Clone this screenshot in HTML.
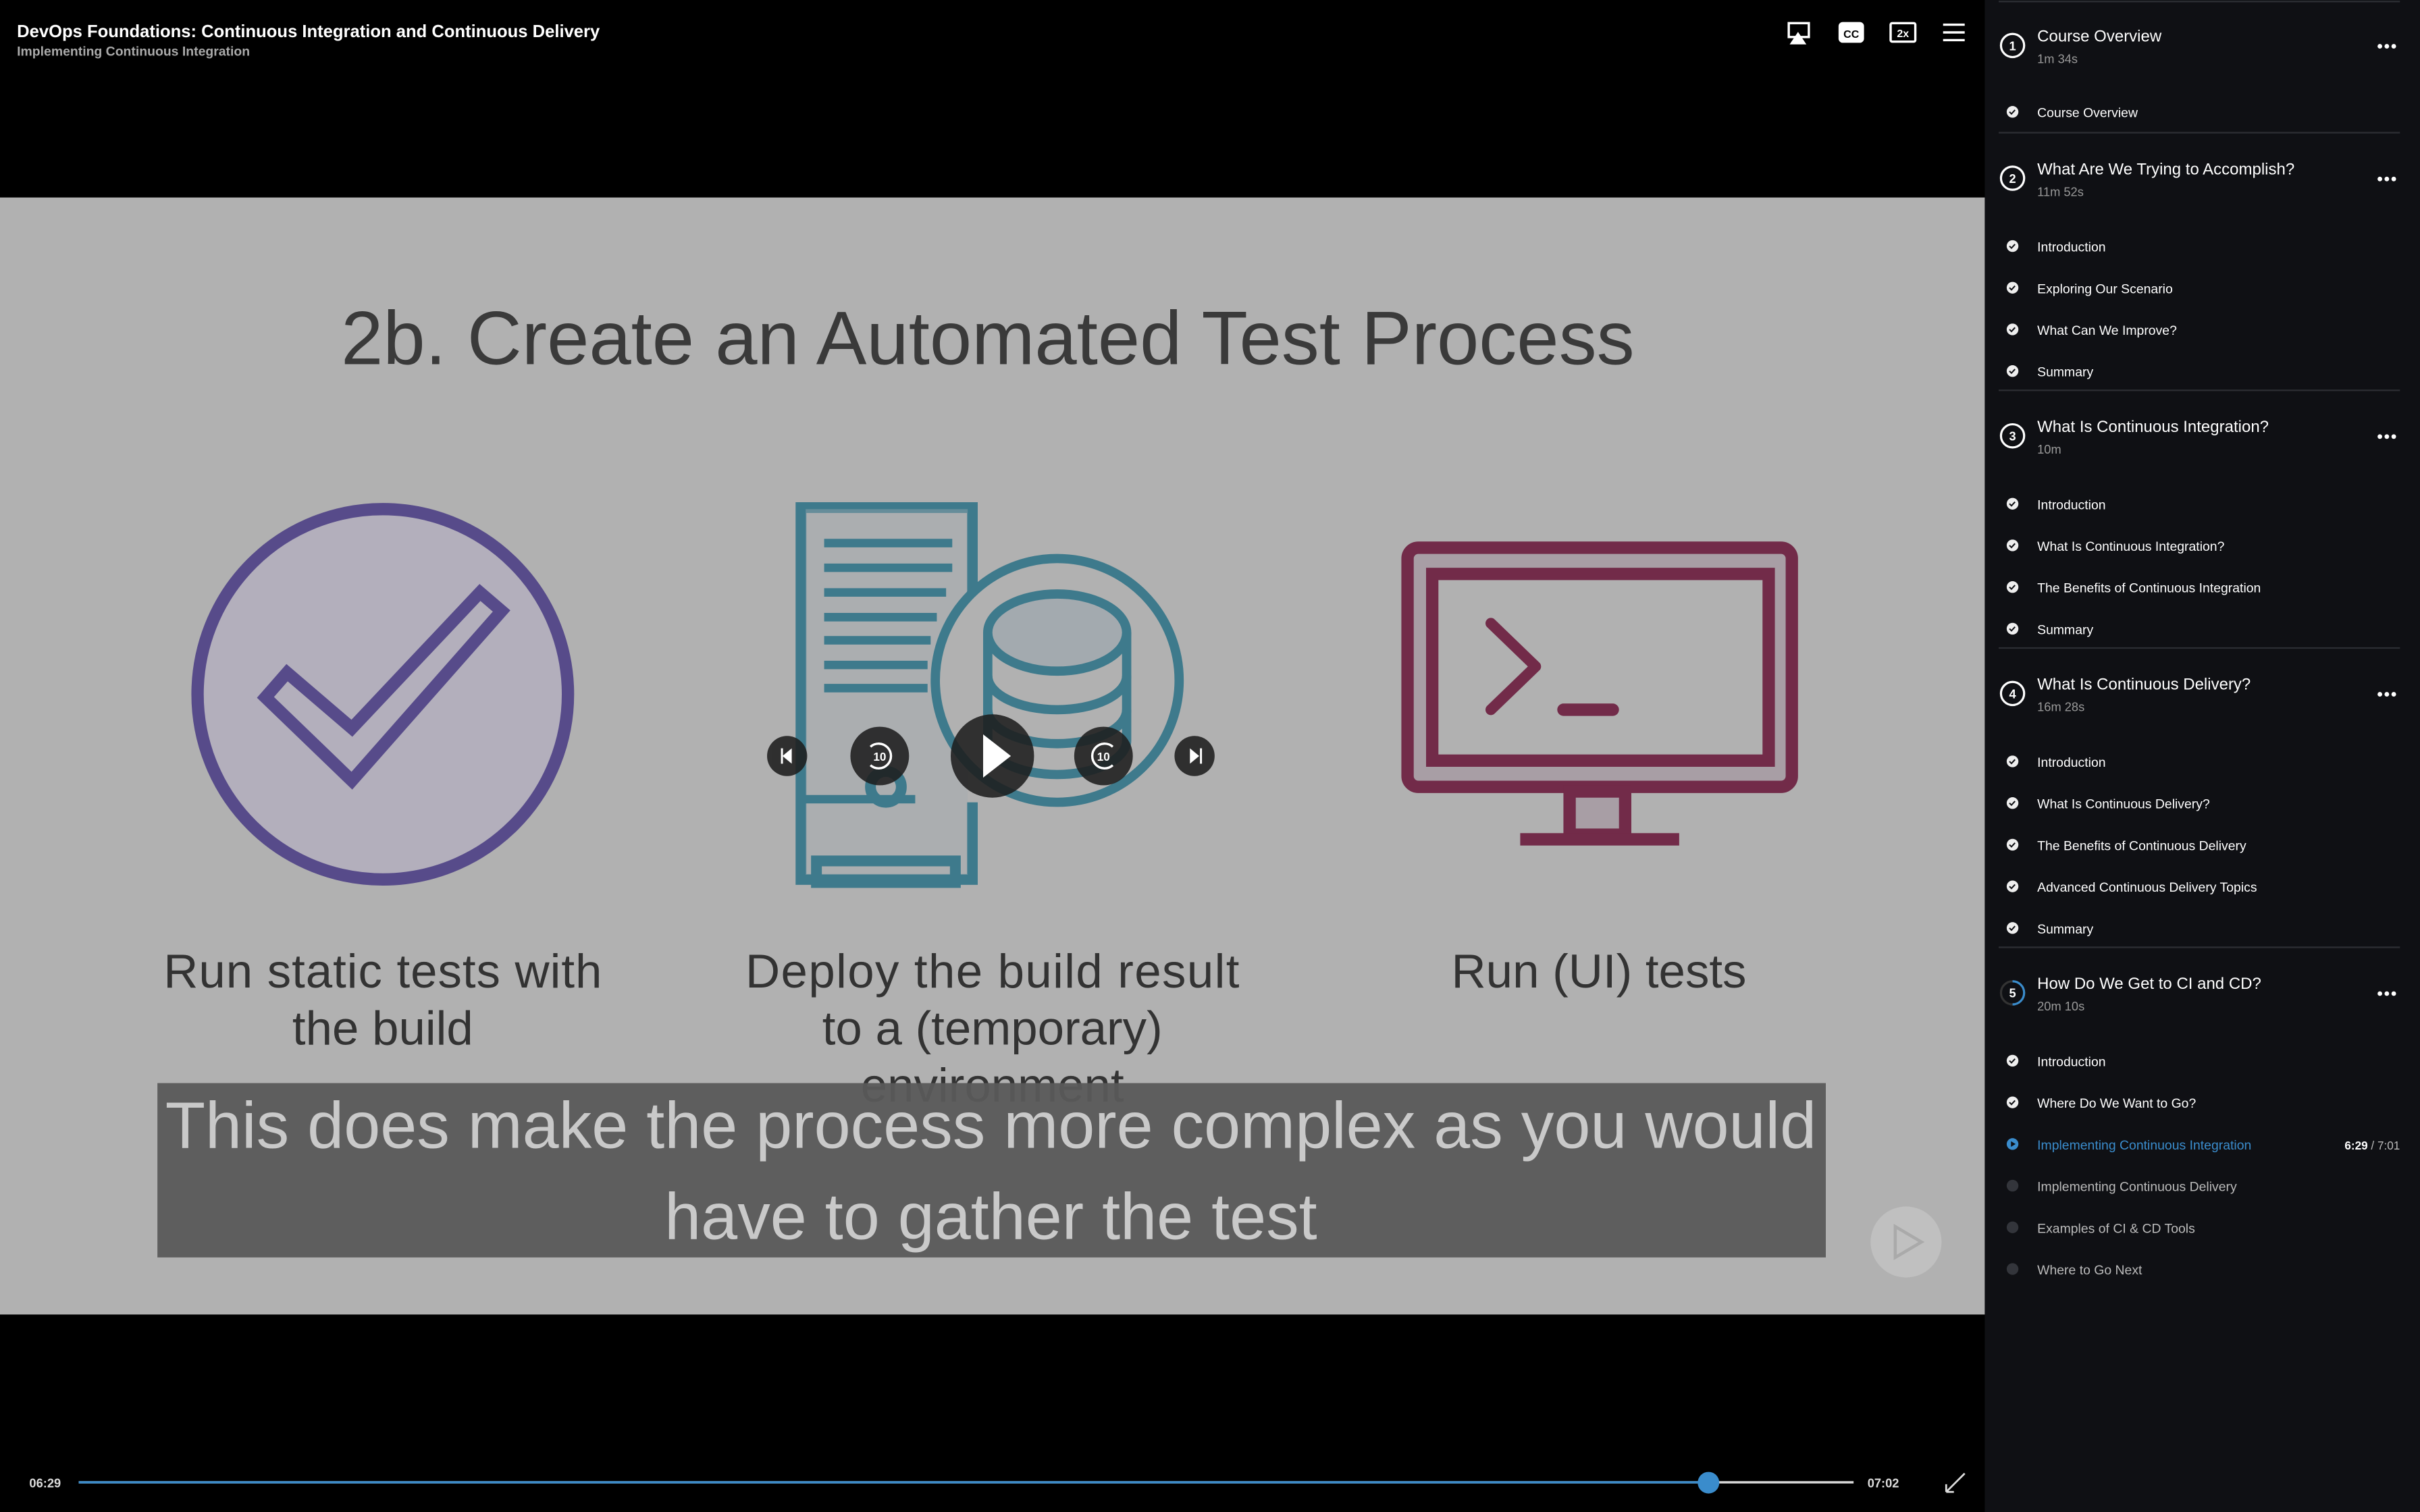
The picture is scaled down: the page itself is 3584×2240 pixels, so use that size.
<!DOCTYPE html>
<html><head><meta charset="utf-8"><style>
html,body{margin:0;padding:0;background:#000;width:3584px;height:2240px;overflow:hidden}
svg{display:block}
text{font-family:"Liberation Sans",sans-serif}
</style></head><body>
<svg width="3584" height="2240" viewBox="0 0 1568 980" preserveAspectRatio="none" xmlns="http://www.w3.org/2000/svg">
<rect width="1568" height="980" fill="#000"/>
<!-- header -->
<text x="11" y="24" font-size="11.2" font-weight="bold" fill="#fff">DevOps Foundations: Continuous Integration and Continuous Delivery</text>
<text x="11" y="36" font-size="8.5" font-weight="bold" fill="#aaa">Implementing Continuous Integration</text>
<g fill="none" stroke="#fff" stroke-width="1.5">
<rect x="1159" y="15" width="13" height="9"/><path d="M1161 28 L1165 22 L1169 28 Z" fill="#fff"/>
<rect x="1192" y="15" width="15" height="12" rx="2" fill="#fff"/>
<rect x="1225" y="15" width="16" height="12" rx="1"/>
<path d="M1259 16 H1273 M1259 21 H1273 M1259 26 H1273"/>
</g>
<text x="1199.5" y="24.5" font-size="7" font-weight="bold" fill="#000" text-anchor="middle">CC</text>
<text x="1233" y="24" font-size="7" font-weight="bold" fill="#fff" text-anchor="middle">2x</text>
<!-- slide -->
<rect x="0" y="128" width="1286" height="724" fill="#b1b1b1"/>
<text x="640" y="236" font-size="49" fill="#3a3a3a" text-anchor="middle">2b. Create an Automated Test Process</text>
<!-- circle check -->
<circle cx="248" cy="450" r="120" fill="#b3afbc" stroke="#574b8a" stroke-width="8"/>
<path d="M172 452 L228 506 L325 396 L311 384 L228 472 L186 436 Z" fill="none" stroke="#574b8a" stroke-width="8" stroke-linejoin="miter"/>
<!-- server -->
<g fill="none" stroke="#3e7a8c" stroke-width="7">
<path d="M630 420 V329 H519 V570 H630 V520"/>
<rect x="522" y="330" width="105" height="237" fill="#a3aaaf" stroke="none" opacity="0.4"/>
<rect x="529" y="558" width="90" height="14"/>
<circle cx="574" cy="510" r="10"/>
</g>
<g stroke="#3e7a8c" stroke-width="5.5">
<path d="M534 352 H617 M534 368 H617 M534 384 H613 M534 400 H607 M534 415 H603 M534 431 H601 M534 446 H601 M519 518 H593"/>
</g>
<circle cx="685" cy="441" r="79" fill="#b1b1b1" stroke="#3e7a8c" stroke-width="6"/>
<g fill="none" stroke="#3e7a8c" stroke-width="6">
<path d="M640 410 V480 A45 22 0 0 0 730 480 V410"/>
<ellipse cx="685" cy="410" rx="45" ry="25" fill="#a3aaaf"/>
<path d="M640 438 A45 22 0 0 0 730 438 M640 460 A45 22 0 0 0 730 460"/>
</g>
<!-- monitor -->
<g fill="none" stroke="#722b49" stroke-width="8">
<rect x="912" y="355" width="249" height="155" rx="7" fill="#a89ea5"/>
<rect x="928" y="372" width="218" height="121" fill="#b1b1b1"/>
<rect x="1017" y="513" width="36" height="28" fill="#a89ea5"/>
<path d="M985 544 H1088" stroke-width="8"/>
<path d="M966 404 L995 432 L966 460" stroke-linecap="round" stroke-linejoin="round" stroke-width="7"/>
<path d="M1013 460 H1045" stroke-linecap="round" stroke-width="8"/>
</g>
<g font-size="31" fill="#333" text-anchor="middle">
<text x="248" y="640" textLength="284">Run static tests with</text>
<text x="248" y="677">the build</text>
<text x="643" y="640" textLength="320">Deploy the build result</text>
<text x="643" y="677">to a (temporary)</text>
<text x="643" y="714">environment</text>
<text x="1036" y="640">Run (UI) tests</text>
</g>
<!-- caption -->
<rect x="102" y="702" width="1081" height="113" fill="#5a5a5a" opacity="0.95"/>
<g font-size="42.5" fill="#c9c9c9" text-anchor="middle">
<text x="642" y="744">This does make the process more complex as you would</text>
<text x="642" y="803">have to gather the test</text>
</g>
<!-- controls -->
<g fill="#1e1e1e" opacity="0.88">
<circle cx="510" cy="490" r="13"/><circle cx="570" cy="490" r="19"/><circle cx="643" cy="490" r="27"/><circle cx="715" cy="490" r="19"/><circle cx="774" cy="490" r="13"/>
</g>
<g fill="#fff">
<path d="M637 476 V504 L655 490 Z"/>
<path d="M513 485 V495 L507 490 Z"/><rect x="506" y="485" width="1.3" height="10"/>
<path d="M771 485 V495 L777 490 Z"/><rect x="777.5" y="485" width="1.3" height="10"/>
</g>
<g fill="none" stroke="#fff" stroke-width="1.5">
<path d="M564 484 A8 8 0 1 1 564 496"/><path d="M721 484 A8 8 0 1 0 721 496"/>
</g>
<text x="570" y="493" font-size="7.5" font-weight="bold" fill="#fff" text-anchor="middle">10</text>
<text x="715" y="493" font-size="7.5" font-weight="bold" fill="#fff" text-anchor="middle">10</text>
<circle cx="1235" cy="805" r="23" fill="#c6c6c6" opacity="0.7"/>
<path d="M1228 795 V815 L1245 805 Z" fill="none" stroke="#aaa" stroke-width="2"/>
<!-- progress -->
<text x="19" y="964" font-size="8" font-weight="bold" fill="#ddd">06:29</text>
<rect x="51" y="960" width="1150" height="1.5" fill="#ddd"/>
<rect x="51" y="960" width="1056" height="1.5" fill="#3a8ccc"/>
<circle cx="1107" cy="961" r="7" fill="#3a8ccc"/>
<text x="1210" y="964" font-size="8" font-weight="bold" fill="#ddd">07:02</text>
<path d="M1261 967 L1267 961 M1267 961 L1273 955 M1261 967 V962 M1261 967 H1266" stroke="#ddd" stroke-width="1.2" fill="none"/>
<!-- sidebar -->
<rect x="1286" y="0" width="282" height="980" fill="#0f1014"/>
<g stroke="#2c2e33" stroke-width="1">
<path d="M1295 1 H1555 M1295 86 H1555 M1295 253 H1555 M1295 420 H1555 M1295 614 H1555"/>
</g>
<g fill="none" stroke="#fff" stroke-width="1.4">
<circle cx="1304" cy="29.5" r="7.5"/><circle cx="1304" cy="115.5" r="7.5"/><circle cx="1304" cy="282.5" r="7.5"/><circle cx="1304" cy="449.5" r="7.5"/>
<circle cx="1304" cy="643.5" r="7.5" stroke="#333"/>
<path d="M1304 636 A7.5 7.5 0 0 1 1304 651" stroke="#3a8ccc"/>
</g>
<g font-size="8" font-weight="bold" fill="#fff" text-anchor="middle">
<text x="1304" y="32.5">1</text><text x="1304" y="118.5">2</text><text x="1304" y="285.5">3</text><text x="1304" y="452.5">4</text><text x="1304" y="646.5">5</text>
</g>
<g font-size="10.5" fill="#fff">
<text x="1320" y="27">Course Overview</text>
<text x="1320" y="113">What Are We Trying to Accomplish?</text>
<text x="1320" y="280">What Is Continuous Integration?</text>
<text x="1320" y="447">What Is Continuous Delivery?</text>
<text x="1320" y="641">How Do We Get to CI and CD?</text>
</g>
<g font-size="8" fill="#999">
<text x="1320" y="41">1m 34s</text><text x="1320" y="127">11m 52s</text><text x="1320" y="294">10m</text><text x="1320" y="461">16m 28s</text><text x="1320" y="655">20m 10s</text>
</g>
<g fill="#fff">
<circle cx="1542" cy="30" r="1.5"/><circle cx="1546.5" cy="30" r="1.5"/><circle cx="1551" cy="30" r="1.5"/>
<circle cx="1542" cy="116" r="1.5"/><circle cx="1546.5" cy="116" r="1.5"/><circle cx="1551" cy="116" r="1.5"/>
<circle cx="1542" cy="283" r="1.5"/><circle cx="1546.5" cy="283" r="1.5"/><circle cx="1551" cy="283" r="1.5"/>
<circle cx="1542" cy="450" r="1.5"/><circle cx="1546.5" cy="450" r="1.5"/><circle cx="1551" cy="450" r="1.5"/>
<circle cx="1542" cy="644" r="1.5"/><circle cx="1546.5" cy="644" r="1.5"/><circle cx="1551" cy="644" r="1.5"/>
</g>
<g fill="#eee">
<circle cx="1304" cy="72.5" r="3.8"/>
<circle cx="1304" cy="159.5" r="3.8"/><circle cx="1304" cy="186.5" r="3.8"/><circle cx="1304" cy="213.5" r="3.8"/><circle cx="1304" cy="240.5" r="3.8"/>
<circle cx="1304" cy="326.5" r="3.8"/><circle cx="1304" cy="353.5" r="3.8"/><circle cx="1304" cy="380.5" r="3.8"/><circle cx="1304" cy="407.5" r="3.8"/>
<circle cx="1304" cy="493.5" r="3.8"/><circle cx="1304" cy="520.5" r="3.8"/><circle cx="1304" cy="547.5" r="3.8"/><circle cx="1304" cy="574.5" r="3.8"/><circle cx="1304" cy="601.5" r="3.8"/>
<circle cx="1304" cy="687.5" r="3.8"/><circle cx="1304" cy="714.5" r="3.8"/>
</g>
<g fill="none" stroke="#0f1014" stroke-width="0.9">
<path d="M1302 72.5 l1.3 1.3 l2.3 -2.5"/>
<path d="M1302 159.5 l1.3 1.3 l2.3 -2.5"/><path d="M1302 186.5 l1.3 1.3 l2.3 -2.5"/><path d="M1302 213.5 l1.3 1.3 l2.3 -2.5"/><path d="M1302 240.5 l1.3 1.3 l2.3 -2.5"/>
<path d="M1302 326.5 l1.3 1.3 l2.3 -2.5"/><path d="M1302 353.5 l1.3 1.3 l2.3 -2.5"/><path d="M1302 380.5 l1.3 1.3 l2.3 -2.5"/><path d="M1302 407.5 l1.3 1.3 l2.3 -2.5"/>
<path d="M1302 493.5 l1.3 1.3 l2.3 -2.5"/><path d="M1302 520.5 l1.3 1.3 l2.3 -2.5"/><path d="M1302 547.5 l1.3 1.3 l2.3 -2.5"/><path d="M1302 574.5 l1.3 1.3 l2.3 -2.5"/><path d="M1302 601.5 l1.3 1.3 l2.3 -2.5"/>
<path d="M1302 687.5 l1.3 1.3 l2.3 -2.5"/><path d="M1302 714.5 l1.3 1.3 l2.3 -2.5"/>
</g>
<circle cx="1304" cy="741.5" r="3.8" fill="#3a8ccc"/>
<path d="M1303 739.7 V743.3 L1306 741.5 Z" fill="#0f1014"/>
<g fill="#33353b"><circle cx="1304" cy="768.5" r="3.8"/><circle cx="1304" cy="795.5" r="3.8"/><circle cx="1304" cy="822.5" r="3.8"/></g>
<g font-size="8.5" fill="#fff">
<text x="1320" y="76">Course Overview</text>
<text x="1320" y="163">Introduction</text><text x="1320" y="190">Exploring Our Scenario</text><text x="1320" y="217">What Can We Improve?</text><text x="1320" y="244">Summary</text>
<text x="1320" y="330">Introduction</text><text x="1320" y="357">What Is Continuous Integration?</text><text x="1320" y="384">The Benefits of Continuous Integration</text><text x="1320" y="411">Summary</text>
<text x="1320" y="497">Introduction</text><text x="1320" y="524">What Is Continuous Delivery?</text><text x="1320" y="551">The Benefits of Continuous Delivery</text><text x="1320" y="578">Advanced Continuous Delivery Topics</text><text x="1320" y="605">Summary</text>
<text x="1320" y="691">Introduction</text><text x="1320" y="718">Where Do We Want to Go?</text>
<text x="1320" y="745" fill="#3a8ccc">Implementing Continuous Integration</text>
<text x="1320" y="772" fill="#bbb">Implementing Continuous Delivery</text>
<text x="1320" y="799" fill="#bbb">Examples of CI &amp; CD Tools</text>
<text x="1320" y="826" fill="#bbb">Where to Go Next</text>
</g>
<text x="1555" y="745" font-size="7.5" fill="#fff" text-anchor="end"><tspan font-weight="bold">6:29</tspan><tspan fill="#bbb"> / 7:01</tspan></text>
</svg>
</body></html>
